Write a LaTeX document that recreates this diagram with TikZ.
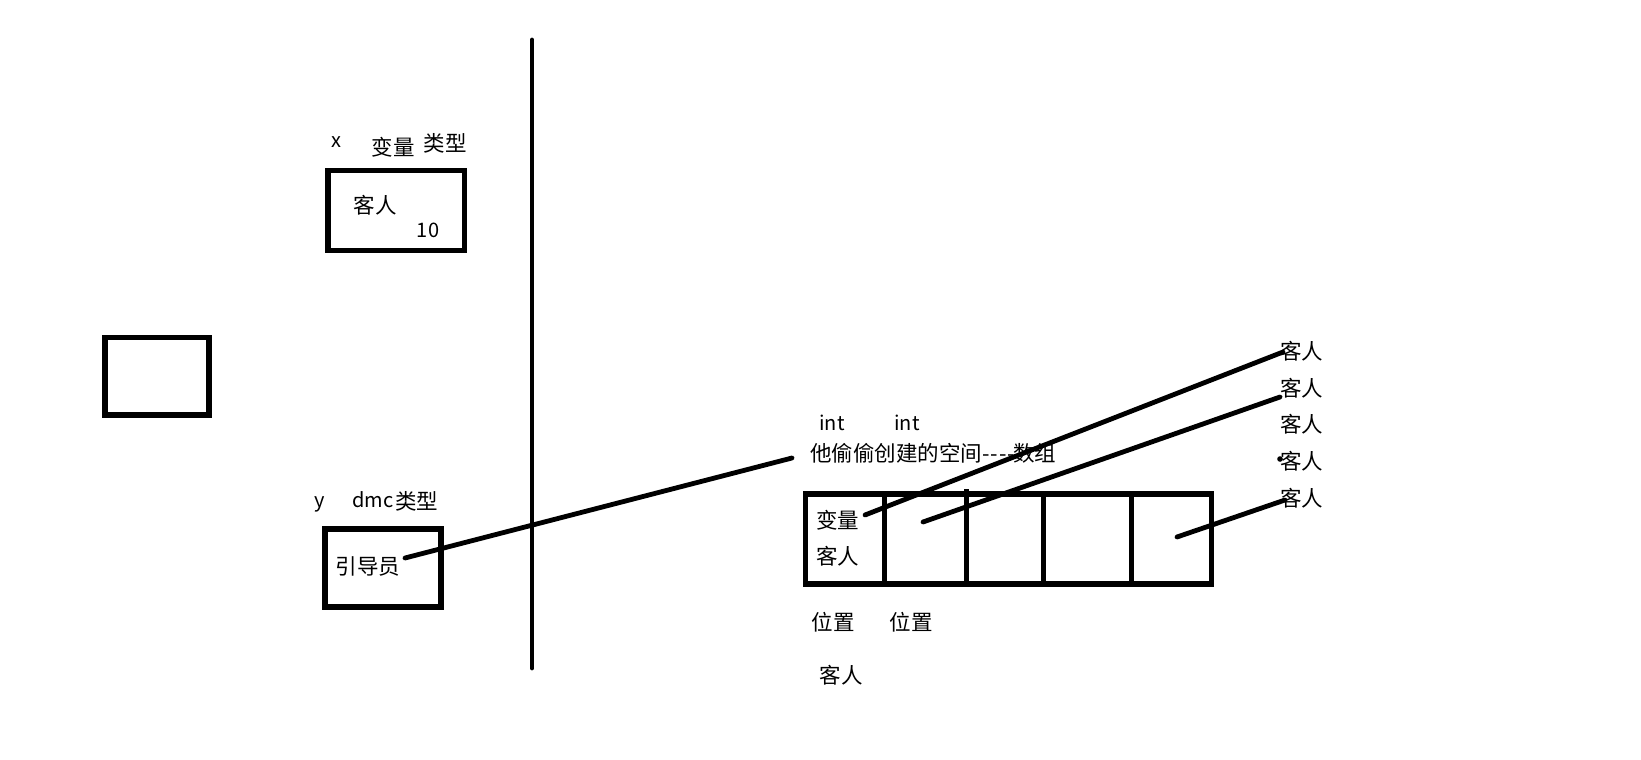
\documentclass[tikz,border=0pt]{standalone}
\usepackage{fontspec}
\setmainfont{Noto Sans CJK SC}
\begin{document}
\begin{tikzpicture}[x=1pt,y=-1pt,
  frame/.style={draw, line width=5.5pt, inner sep=0pt, outer sep=0pt},
  txt/.style={font=\fontsize{21.5}{26}\selectfont, inner sep=0pt, text height=18.9pt, text depth=2.6pt},
  lat/.style={font=\fontsize{20}{24}\selectfont, inner sep=0pt, anchor=base},
  link/.style={line width=4.8pt, line cap=round}
]
\useasboundingbox[fill=white] (0,0) rectangle (1641,760);

% divider line
\coordinate (vtop) at (532,40);
\coordinate (vbot) at (532,668);
\draw[link] (vtop) -- (vbot);

% left boxes
\node[frame, minimum width=136.7pt, minimum height=80pt] (boxx) at (396.2,210.5) {};
\node[frame, minimum width=104.3pt, minimum height=77.7pt] (boxl) at (156.9,376.2) {};
\node[frame, minimum width=116pt, minimum height=77.7pt] (boxy) at (383,567.9) {};

\node[lat] (lx) at (336,147.5) {x};
\node[txt] (lvar) at (393,147.5) {变量};
\node[txt] (ltype) at (445,143) {类型};
\node[txt] (lguest) at (375,205) {客人};
\node[lat] (l10) at (428,237) {10};

\node[lat] (ly) at (320,507) {y};
\node[lat, anchor=base west] (ldmc) at (352,507) {dmc};
\node[txt] (ltype2) at (416.5,501) {类型};
\node[txt] (lguide) at (368,566) {引导员};

% array cells
\node[frame, minimum width=78.6pt, minimum height=90pt] (c1) at (845,539) {};
\node[frame, minimum width=82.4pt, minimum height=90pt] (c2) at (925.5,539) {};
\node[frame, minimum width=76.6pt, minimum height=90pt] (c3) at (1005,539) {};
\node[frame, minimum width=88.4pt, minimum height=90pt] (c4) at (1087.5,539) {};
\node[frame, minimum width=80pt, minimum height=90pt] (c5) at (1171.7,539) {};
\coordinate (tick) at (966.7,489);
\draw[line width=4.5pt] (tick) -- (c3.north west);

\node[lat] (int1) at (832,430) {int};
\node[lat] (int2) at (907,430) {int};
\node[txt, anchor=west] (lspace) at (810,453) {他偷偷创建的空间-\kern1pt-\kern1pt-\kern1pt-\kern-2pt数组};
\node[txt] (avar) at (837.5,520) {变量};
\node[txt] (aguest) at (837.5,556) {客人};

\node[txt] (pos1) at (833.3,622) {位置};
\node[txt] (pos2) at (911,622) {位置};
\node[txt] (bguest) at (841,675) {客人};

% right column
\node[txt] (r1) at (1301.7,351.7) {客人};
\node[txt] (r2) at (1301.7,388) {客人};
\node[txt] (r3) at (1301.7,424) {客人};
\node[txt] (r4) at (1301.7,461) {客人};
\node[txt] (r5) at (1301.7,498) {客人};

% connectors
\coordinate (g0a) at (405,558);
\coordinate (g0b) at (792,458);
\draw[link] (g0a) -- (g0b);
\coordinate (g1a) at (865,515);
\coordinate (g1b) at (1283,352);
\draw[link] (g1a) -- (g1b);
\coordinate (g2a) at (923,522);
\coordinate (g2b) at (1280,397);
\draw[link] (g2a) -- (g2b);
\coordinate (g3a) at (1177,537);
\coordinate (g3b) at (1285,500);
\draw[link] (g3a) -- (g3b);
\coordinate (dot) at (1280,459);
\fill (dot) circle (2.8pt);
\end{tikzpicture}
\end{document}
